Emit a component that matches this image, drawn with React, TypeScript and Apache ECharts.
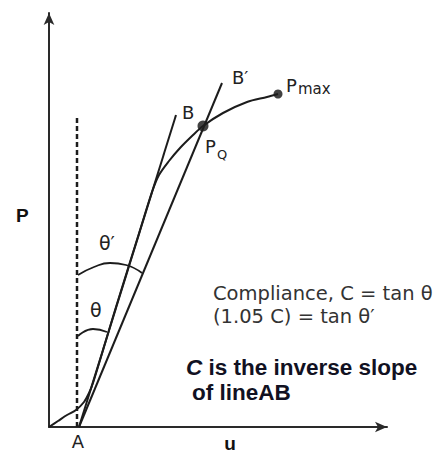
import React, { useEffect, useRef } from "react";
import * as echarts from "echarts";

// Load–displacement curve (u, P) in chart units
const curveU = [0, 9, 18, 27, 35, 40, 44, 67, 92, 103, 110, 120, 131, 143, 154, 174, 198, 218, 229];
const curveP = [0, 6, 12, 17, 25, 34, 44, 120, 200, 235, 252, 266, 279, 291, 301, 314, 325, 330, 333];
// Line AB (secant with slope C)
const lineABU = [30, 127];
const lineABP = [0, 312];
// Line AB' (1.05 C)
const lineABpU = [30, 173];
const lineABpP = [0, 344];
// Dashed vertical reference at A
const dashU = [28, 28];
const dashP = [0, 309];
// Angle arcs
const arcThetaPU = [29, 45, 61, 77, 93];
const arcThetaPP = [152, 160, 164, 162, 154];
const arcThetaU = [29, 44, 58];
const arcThetaP = [91, 98, 95];
// Marked points: P_Q and P_max
const pointNames = ["PQ", "Pmax"];
const pointU = [154, 229];
const pointP = [301, 333];

const zip = (a: number[], b: number[]) => a.map((v, i) => [v, b[i]]);

const INK = "#1c1c1c";
const VER = "DejaVu Sans";
const ARIAL = "Liberation Sans, Arial, sans-serif";

export default function App() {
  const ref = useRef<HTMLDivElement>(null);
  useEffect(() => {
    if (!ref.current) return;
    const chart = echarts.init(ref.current, undefined, { renderer: "svg" });
    const lineBase = {
      type: "line" as const,
      showSymbol: false,
      symbol: "none",
      silent: true,
      lineStyle: { color: INK, width: 2 },
    };
    const axisCommon = {
      type: "value" as const,
      min: 0,
      axisTick: { show: false },
      axisLabel: { show: false },
      splitLine: { show: false },
      axisLine: {
        show: true,
        symbol: ["none", "arrow"],
        symbolSize: [8, 12],
        lineStyle: { color: "#2a2a2a", width: 2 },
      },
    };
    const txt = (x: number, y: number, text: string, size: number, opts: any = {}) => ({
      type: "text",
      x,
      y,
      style: {
        text,
        fontSize: size,
        fontFamily: opts.family || VER,
        fontWeight: opts.weight || "normal",
        fill: opts.fill || "#222",
        align: opts.align || "left",
        verticalAlign: "middle",
      },
    });
    chart.setOption({
      animation: false,
      backgroundColor: "#ffffff",
      grid: { left: 49, right: 52, top: 13, bottom: 26 },
      xAxis: { ...axisCommon, max: 338 },
      yAxis: { ...axisCommon, max: 414 },
      series: [
        { ...lineBase, name: "curve", smooth: 0.3, data: zip(curveU, curveP) },
        { ...lineBase, name: "AB", data: zip(lineABU, lineABP) },
        { ...lineBase, name: "AB'", data: zip(lineABpU, lineABpP) },
        {
          ...lineBase,
          name: "dash",
          data: zip(dashU, dashP),
          lineStyle: { color: INK, width: 2.5, type: [5, 3] },
        },
        { ...lineBase, name: "thetaP", smooth: true, data: zip(arcThetaPU, arcThetaPP), lineStyle: { color: INK, width: 1.8 } },
        { ...lineBase, name: "theta", smooth: true, data: zip(arcThetaU, arcThetaP), lineStyle: { color: INK, width: 1.8 } },
        {
          type: "scatter",
          name: "points",
          silent: true,
          data: pointNames.map((n, i) => ({ name: n, value: [pointU[i], pointP[i]], symbolSize: i === 0 ? 11 : 9 })),
          itemStyle: { color: "#111" },
        },
      ],
      graphic: [
        txt(16, 215, "P", 19, { family: ARIAL, weight: "bold", fill: "#111" }),
        txt(230, 443, "u", 19, { family: ARIAL, weight: "bold", fill: "#111", align: "center" }),
        txt(78, 441, "A", 18, { align: "center" }),
        txt(182, 112, "B", 18),
        txt(232, 77, "B\u2032", 18),
        txt(286, 85, "P", 18),
        txt(298, 89, "max", 15),
        txt(205, 146, "P", 18),
        txt(217, 154, "Q", 13),
        txt(99, 243, "\u03b8\u2032", 19),
        txt(90, 310, "\u03b8", 19),
        txt(213, 293, "Compliance, C = tan \u03b8", 19.5, { fill: "#333" }),
        txt(213, 316, "(1.05 C) = tan \u03b8\u2032", 19.5, { fill: "#333" }),
        {
          type: "text",
          x: 186,
          y: 367,
          style: {
            text: "{i|C} is the inverse slope",
            fontSize: 22.5,
            fontFamily: ARIAL,
            fontWeight: "bold",
            fill: "#111122",
            verticalAlign: "middle",
            rich: { i: { fontStyle: "italic", fontWeight: "bold", fontSize: 22.5, fontFamily: ARIAL, fill: "#111122" } },
          },
        },
        txt(192, 392, "of lineAB", 22.5, { family: ARIAL, weight: "bold", fill: "#111122" }),
      ],
    });
    return () => chart.dispose();
  }, []);
  return (
    <div
      ref={ref}
      style={{ position: "fixed", left: 0, top: 0, width: 439, height: 453, background: "#fff" }}
    />
  );
}
